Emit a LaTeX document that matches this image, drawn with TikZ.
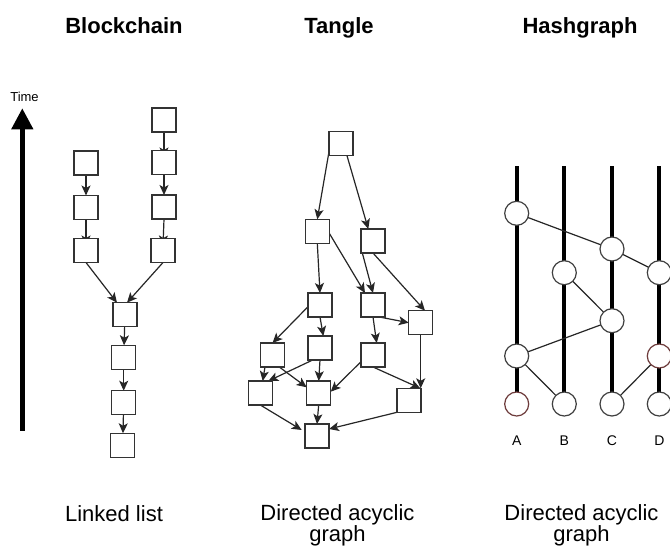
\documentclass[tikz,border=0pt]{standalone}
\usepackage{fontspec}
\setmainfont{Liberation Sans}
\usetikzlibrary{arrows.meta,backgrounds}
\definecolor{hgred}{RGB}{110,60,60}
\tikzset{
  x=1pt,y=-1pt,
  blk/.style={draw=black!80,line width=1.2pt,fill=white,minimum size=24pt,inner sep=0pt,outer sep=0pt},
  evt/.style={circle,draw=black!75,line width=1.2pt,fill=white,minimum size=24pt,inner sep=0pt,outer sep=0pt},
  evtred/.style={evt,draw=hgred},
  edge/.style={draw=black!85,line width=1.2pt,-{Stealth[length=10pt,width=9pt,inset=2.5pt]}},
  link/.style={draw=black!85,line width=1.2pt},
  strand/.style={draw=black,line width=4pt},
  title/.style={font=\bfseries\fontsize{22}{26}\selectfont,anchor=base,inner sep=0pt},
  caption/.style={font=\fontsize{22}{21.7}\selectfont,anchor=base,inner sep=0pt,align=center},
  small/.style={font=\fontsize{14}{16}\selectfont,anchor=base,inner sep=0pt}
}
\begin{document}
\begin{tikzpicture}
\clip (0,0) rectangle (670,549);
\begin{scope}[on background layer]
\fill[white] (0,0) rectangle (670,549);
\end{scope}

% titles
\node[title] (t1) at (124,33.3) {Blockchain};
\node[title] (t2) at (339,33.3) {Tangle};
\node[title] (t3) at (580,33.3) {Hashgraph};

% captions
\node[caption] (c1) at (114,521.7) {Linked list};
\node[caption] (c2) at (337.5,541.7) {Directed acyclic\\graph};
\node[caption] (c3) at (581.5,541.7) {Directed acyclic\\graph};

% time arrow
\node[font=\fontsize{13}{15}\selectfont,anchor=base,inner sep=0pt] (time) at (24.5,101.7) {Time};
\coordinate (tb) at (22.3,430.7);
\coordinate (tt) at (22.3,108.3);
\draw[line width=4.5pt,-{Triangle[length=21pt,width=21pt]}] (tb) -- (tt);

% ---------------- Blockchain ----------------
\node[blk] (l1) at (86,163) {};
\node[blk] (l2) at (86,207.5) {};
\node[blk] (l3) at (86,250.5) {};
\node[blk] (r1) at (164,120) {};
\node[blk] (r2) at (164,162.5) {};
\node[blk] (r3) at (164,207) {};
\node[blk] (r4) at (163,250.5) {};
\node[blk] (m1) at (125,314.7) {};
\node[blk] (m2) at (123.7,357.3) {};
\node[blk] (m3) at (123.7,402.7) {};
\node[blk] (m4) at (122.7,445.3) {};
\begin{scope}[on background layer]
\draw[edge] (l1) -- (l2);
\draw[edge] (l2) -- ([yshift=-7pt]l3.north);
\draw[edge] (r1) -- ([yshift=-7pt]r2.north);
\draw[edge] (r2) -- (r3);
\draw[edge] (r3.south) -- ([yshift=-7pt]r4.north);
\draw[edge] (l3.south) -- ([xshift=-8pt]m1.north);
\draw[edge] (r4.south) -- ([xshift=2pt]m1.north);
\draw[edge] (m1) -- (m2);
\draw[edge] (m2) -- (m3);
\draw[edge] (m3) -- (m4);
\end{scope}

% ---------------- Tangle ----------------
\node[blk] (g0) at (341,143.7) {};
\node[blk] (gL1) at (317.3,231.3) {};
\node[blk] (gR1) at (373,241) {};
\node[blk] (gL2) at (320,305) {};
\node[blk] (gR2) at (373,305) {};
\node[blk] (gFR) at (420.7,322.7) {};
\node[blk] (gA) at (272.5,355) {};
\node[blk] (gB) at (320,348) {};
\node[blk] (gC) at (373,355) {};
\node[blk] (gD) at (260.3,393) {};
\node[blk] (gE) at (318.7,393) {};
\node[blk] (gF) at (409,400.3) {};
\node[blk] (gG) at (317,436) {};
\begin{scope}[on background layer]
\draw[edge] ([xshift=-12pt,yshift=4pt]g0.south) -- (gL1.north);
\draw[edge] ([xshift=6pt]g0.south) -- ([xshift=-4.7pt]gR1.north);
\draw[edge] (gL1.south) -- (gL2.north);
\draw[edge] ([yshift=-2pt]gL1.east) -- ([xshift=-8pt]gR2.north);
\draw[edge] ([yshift=-7pt]gR1.west) -- (gR2.north);
\draw[edge] (gR1.south) -- ([xshift=4.3pt]gFR.north);
\draw[edge] ([yshift=-1.7pt]gL2.west) -- (gA.north);
\draw[edge] (gL2.south) -- ([xshift=3.3pt]gB.north);
\draw[edge] ([xshift=6.3pt]gR2.south) -- (gFR.west);
\draw[edge] (gR2.south) -- ([xshift=3.7pt]gC.north);
\draw[edge] ([xshift=-7.5pt]gA.south) -- ([xshift=2.4pt]gD.north);
\draw[edge] ([xshift=6.8pt]gA.south) -- ([yshift=5.7pt]gE.west);
\draw[edge] ([xshift=-7.3pt]gB.south) -- ([xshift=8pt]gD.north);
\draw[edge] (gB.south) -- (gE.north);
\draw[edge] ([yshift=-6.7pt]gC.west) -- ([yshift=1.3pt]gE.east);
\draw[edge] (gC.south) -- ([xshift=11.3pt]gF.north);
\draw[edge] (gFR.south) -- ([xshift=11.7pt]gF.north);
\draw[edge] (gD.south) -- ([xshift=-3.3pt,yshift=6pt]gG.west);
\draw[edge] (gE.south) -- (gG.north);
\draw[edge] (gF.south west) -- ([yshift=7pt]gG.east);
\end{scope}

% ---------------- Hashgraph ----------------
\coordinate (sA) at (516.7,166);
\coordinate (sB) at (564.3,166);
\coordinate (sC) at (612,166);
\coordinate (sD) at (659.3,166);
\node[evt] (a1) at (516.7,213.3) {};
\node[evt] (c1e) at (612,249) {};
\node[evt] (b1) at (564.3,272.7) {};
\node[evt] (d1) at (659.3,272.7) {};
\node[evt] (c2e) at (612,320.7) {};
\node[evt] (a2) at (516.7,356) {};
\node[evtred] (d2) at (659.3,356) {};
\node[evtred] (a3) at (516.7,404) {};
\node[evt] (b3) at (564.3,404) {};
\node[evt] (c3e) at (612,404) {};
\node[evt] (d3) at (659.3,404) {};
\begin{scope}[on background layer]
\draw[strand] (sA) -- (a3.center);
\draw[strand] (sB) -- (b3.center);
\draw[strand] (sC) -- (c3e.center);
\draw[strand] (sD) -- (d3.center);
\draw[link] (a1) -- (c1e);
\draw[link] (c1e) -- (d1);
\draw[link] (b1) -- (c2e);
\draw[link] (c2e) -- (a2);
\draw[link] (a2) -- (b3);
\draw[link] (c3e) -- (d2);
\end{scope}
\node[small] (la) at (516.7,445.7) {A};
\node[small] (lb) at (564.3,445.7) {B};
\node[small] (lc) at (612,445.7) {C};
\node[small] (ld) at (659.3,445.7) {D};
\end{tikzpicture}
\end{document}
